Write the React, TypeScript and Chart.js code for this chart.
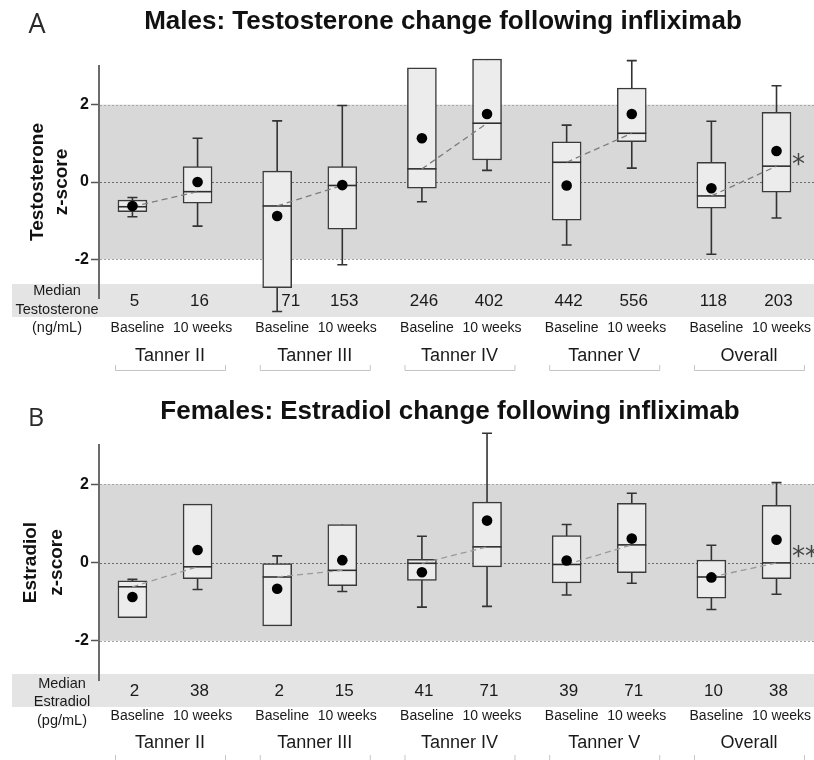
import React, { useEffect, useRef } from 'react';
import { Chart, registerables } from 'chart.js';

Chart.register(...registerables);

// ---------- shared categories ----------
const groupLabels = ['Tanner II', 'Tanner III', 'Tanner IV', 'Tanner V', 'Overall'];
const timeLabels = ['Baseline', '10 weeks'];
const yTickValues = [-2, 0, 2];
const normalLow = -2;
const normalHigh = 2;

// ---------- Panel A: males, testosterone z-score (order: II base, II 10wk, III base, ...) ----------
const maleWhiskerLow = [-0.9, -1.14, -3.35, -2.14, -0.51, 0.3, -1.63, 0.36, -1.87, -0.93];
const maleQ1 = [-0.77, -0.55, -2.73, -1.22, -0.16, 0.57, -0.99, 1.04, -0.68, -0.26];
const maleMedian = [-0.64, -0.25, -0.62, -0.09, 0.34, 1.52, 0.51, 1.26, -0.36, 0.41];
const maleQ3 = [-0.47, 0.4, 0.28, 0.4, 2.95, 3.18, 1.04, 2.43, 0.51, 1.8];
const maleWhiskerHigh = [-0.4, 1.13, 1.58, 1.98, 2.95, 3.18, 1.47, 3.14, 1.57, 2.49];
const maleMean = [-0.62, 0.0, -0.88, -0.08, 1.13, 1.76, -0.09, 1.76, -0.16, 0.8];
const maleMedianLevel = ['5', '16', '71', '153', '246', '402', '442', '556', '118', '203'];
const maleSignificance = ['', '', '', '', '*'];

// ---------- Panel B: females, estradiol z-score ----------
const femaleWhiskerLow = [-1.41, -0.69, -1.62, -0.74, -1.14, -1.12, -0.83, -0.53, -1.2, -0.81];
const femaleQ1 = [-1.41, -0.41, -1.62, -0.59, -0.46, -0.11, -0.52, -0.26, -0.91, -0.41];
const femaleMedian = [-0.62, -0.11, -0.37, -0.2, -0.02, 0.4, -0.05, 0.45, -0.37, -0.01];
const femaleQ3 = [-0.47, 1.49, -0.03, 0.97, 0.08, 1.54, 0.69, 1.51, 0.06, 1.46];
const femaleWhiskerHigh = [-0.43, 1.49, 0.17, 0.97, 0.67, 3.3, 0.97, 1.77, 0.44, 2.04];
const femaleMean = [-0.88, 0.32, -0.67, 0.06, -0.25, 1.07, 0.05, 0.61, -0.38, 0.58];
const femaleMedianLevel = ['2', '38', '2', '15', '41', '71', '39', '71', '10', '38'];
const femaleSignificance = ['', '', '', '', '**'];

// ---------- layout constants ----------
const W = 814;
const H = 380;
const PAIR = 0.225;
const X_MIN = -0.456;
const X_MAX = 4.484;
const BOX_W = 29;
const CAP = 5;
const TEXT_SHIFT = 5;
const FONT = '"Liberation Sans", Arial, Helvetica, sans-serif';

const boxX = (i: number) => Math.floor(i / 2) + (i % 2 === 0 ? -PAIR : PAIR);

type PanelCfg = {
  title: string; titleX: number; titleY: number;
  letter: string; letterX: number; letterY: number; letterSize: number;
  yTitle: string[]; yTitleX: number[];
  rowLabel: string[]; rowLabelX: number; rowLabelY: number[];
  top: number; bottom: number; axisX: number;
  bandTop: number; bandBottom: number; bandLeft: number;
  valueY: number; timeY: number; groupY: number; bracketY: number; bracketTickTop: number;
  wl: number[]; q1: number[]; med: number[]; q3: number[]; wh: number[]; mean: number[];
  levels: string[]; sig: string[]; dashColor: string;
};

const panelA: PanelCfg = {
  title: 'Males: Testosterone change following infliximab', titleX: 443, titleY: 22,
  letter: 'A', letterX: 37, letterY: 25, letterSize: 27,
  yTitle: ['Testosterone', 'z-score'], yTitleX: [38, 62],
  rowLabel: ['Median', 'Testosterone', '(ng/mL)'], rowLabelX: 57, rowLabelY: [291, 309.5, 328],
  top: 66, bottom: 298, axisX: 99,
  bandTop: 284, bandBottom: 317, bandLeft: 12,
  valueY: 301, timeY: 328, groupY: 356, bracketY: 370.5, bracketTickTop: 365,
  wl: maleWhiskerLow, q1: maleQ1, med: maleMedian, q3: maleQ3, wh: maleWhiskerHigh, mean: maleMean,
  levels: maleMedianLevel, sig: maleSignificance, dashColor: '#7d7d7d',
};

const panelB: PanelCfg = {
  title: 'Females: Estradiol change following infliximab', titleX: 450, titleY: 32,
  letter: 'B', letterX: 36, letterY: 39, letterSize: 25,
  yTitle: ['Estradiol', 'z-score'], yTitleX: [31, 57],
  rowLabel: ['Median', 'Estradiol', '(pg/mL)'], rowLabelX: 62, rowLabelY: [304, 322, 340.5],
  top: 65, bottom: 300, axisX: 99,
  bandTop: 294, bandBottom: 327, bandLeft: 12,
  valueY: 311, timeY: 336, groupY: 363, bracketY: 381, bracketTickTop: 375,
  wl: femaleWhiskerLow, q1: femaleQ1, med: femaleMedian, q3: femaleQ3, wh: femaleWhiskerHigh, mean: femaleMean,
  levels: femaleMedianLevel, sig: femaleSignificance, dashColor: '#9a9a9a',
};

function makeDecor(p: PanelCfg) {
  return {
    id: 'decor',
    beforeDraw(chart: any) {
      const { ctx, chartArea } = chart;
      const y = chart.scales.y;
      ctx.save();
      const yTop = y.getPixelForValue(normalHigh);
      const yBot = y.getPixelForValue(normalLow);
      ctx.fillStyle = '#d8d8d8';
      ctx.fillRect(chartArea.left, yTop, chartArea.right - chartArea.left, yBot - yTop);
      ctx.fillStyle = '#e4e4e4';
      ctx.fillRect(p.bandLeft, p.bandTop, chart.width - p.bandLeft, p.bandBottom - p.bandTop);
      ctx.restore();
    },
    beforeDatasetsDraw(chart: any) {
      const { ctx, chartArea } = chart;
      const x = chart.scales.x;
      const y = chart.scales.y;
      ctx.save();
      // dotted reference lines
      ctx.lineWidth = 1;
      ctx.setLineDash([2, 2]);
      yTickValues.forEach((v) => {
        const py = Math.round(y.getPixelForValue(v)) + 0.5;
        ctx.strokeStyle = v === 0 ? '#6a6a6a' : '#a5a5a5';
        ctx.beginPath();
        ctx.moveTo(chartArea.left + 1, py);
        ctx.lineTo(chartArea.right, py);
        ctx.stroke();
      });
      ctx.setLineDash([]);
      // whiskers + caps
      ctx.strokeStyle = '#333';
      ctx.lineWidth = 1.6;
      p.wl.forEach((lo, i) => {
        const px = x.getPixelForValue(boxX(i));
        const pLo = y.getPixelForValue(lo);
        const pHi = y.getPixelForValue(p.wh[i]);
        ctx.beginPath();
        ctx.moveTo(px, pLo);
        ctx.lineTo(px, pHi);
        if (lo < p.q1[i]) {
          ctx.moveTo(px - CAP, pLo);
          ctx.lineTo(px + CAP, pLo);
        }
        if (p.wh[i] > p.q3[i]) {
          ctx.moveTo(px - CAP, pHi);
          ctx.lineTo(px + CAP, pHi);
        }
        ctx.stroke();
      });
      ctx.restore();
    },
    afterDatasetDraw(chart: any, args: any) {
      if (args.index !== 0) return;
      const { ctx } = chart;
      const x = chart.scales.x;
      const y = chart.scales.y;
      ctx.save();
      ctx.strokeStyle = '#2e2e2e';
      ctx.lineWidth = 1.6;
      p.med.forEach((m, i) => {
        const px = x.getPixelForValue(boxX(i));
        const py = y.getPixelForValue(m);
        ctx.beginPath();
        ctx.moveTo(px - BOX_W / 2, py);
        ctx.lineTo(px + BOX_W / 2, py);
        ctx.stroke();
      });
      ctx.restore();
    },
    afterDraw(chart: any) {
      const { ctx, chartArea } = chart;
      const x = chart.scales.x;
      const y = chart.scales.y;
      ctx.save();
      ctx.fillStyle = '#111';
      ctx.textBaseline = 'middle';
      ctx.textAlign = 'center';
      // title
      ctx.font = `bold 26px ${FONT}`;
      ctx.fillText(p.title, p.titleX, p.titleY);
      // panel letter
      ctx.fillStyle = '#2a2a2a';
      ctx.font = `${p.letterSize}px "Open Sans", "DejaVu Sans", sans-serif`;
      ctx.fillText(p.letter, p.letterX, p.letterY);
      // y title (rotated)
      ctx.fillStyle = '#111';
      ctx.font = `bold 19px ${FONT}`;
      const cy = (chartArea.top + chartArea.bottom) / 2;
      p.yTitle.forEach((t, k) => {
        ctx.save();
        ctx.translate(p.yTitleX[k], cy);
        ctx.rotate(-Math.PI / 2);
        ctx.fillText(t, 0, 0);
        ctx.restore();
      });
      // median row label
      ctx.fillStyle = '#1a1a1a';
      ctx.font = `14.5px ${FONT}`;
      p.rowLabel.forEach((t, k) => ctx.fillText(t, p.rowLabelX, p.rowLabelY[k]));
      // median hormone values
      ctx.font = `17px ${FONT}`;
      p.levels.forEach((t, i) => {
        const px = x.getPixelForValue(boxX(i));
        const whiskerBottom = y.getPixelForValue(p.wl[i]);
        if (whiskerBottom > p.valueY - 10) {
          ctx.textAlign = 'left';
          ctx.fillText(t, px + 4, p.valueY);
          ctx.textAlign = 'center';
        } else {
          ctx.fillText(t, px + TEXT_SHIFT - 3, p.valueY);
        }
      });
      // timepoint labels
      ctx.font = `14px ${FONT}`;
      p.levels.forEach((_, i) => {
        const px = x.getPixelForValue(boxX(i));
        ctx.fillText(timeLabels[i % 2], px + TEXT_SHIFT, p.timeY);
      });
      // group labels + brackets
      ctx.font = `18px ${FONT}`;
      groupLabels.forEach((g, gi) => {
        const gx = x.getPixelForValue(gi) + TEXT_SHIFT;
        ctx.fillStyle = '#1a1a1a';
        ctx.fillText(g, gx, p.groupY);
        ctx.strokeStyle = '#c4c4c4';
        ctx.lineWidth = 1;
        ctx.beginPath();
        ctx.moveTo(gx - 55 + 0.5, p.bracketTickTop);
        ctx.lineTo(gx - 55 + 0.5, p.bracketY);
        ctx.lineTo(gx + 55 + 0.5, p.bracketY);
        ctx.lineTo(gx + 55 + 0.5, p.bracketTickTop);
        ctx.stroke();
      });
      // significance markers
      ctx.fillStyle = '#444';
      ctx.textAlign = 'left';
      ctx.textBaseline = 'alphabetic';
      ctx.font = '26px "DejaVu Sans", sans-serif';
      p.sig.forEach((s, gi) => {
        if (!s) return;
        const i = gi * 2 + 1;
        const px = x.getPixelForValue(boxX(i)) + BOX_W / 2 + 1;
        const py = y.getPixelForValue((p.med[i] + p.mean[i]) / 2);
        ctx.fillText(s, px, py + 14);
      });
      ctx.restore();
    },
  };
}

function Panel({ p }: { p: PanelCfg }) {
  const ref = useRef<HTMLCanvasElement | null>(null);
  useEffect(() => {
    if (!ref.current) return;
    const lineData: any[] = [];
    groupLabels.forEach((_, g) => {
      lineData.push({ x: boxX(2 * g), y: p.med[2 * g] });
      lineData.push({ x: boxX(2 * g + 1), y: p.med[2 * g + 1] });
      lineData.push({ x: g + 0.5, y: null });
    });
    const chart = new Chart(ref.current, {
      type: 'bar',
      data: {
        datasets: [
          {
            type: 'bar',
            data: p.q1.map((v, i) => ({ x: boxX(i), y: [v, p.q3[i]] })),
            backgroundColor: '#ececec',
            borderColor: '#3a3a3a',
            borderWidth: 1.5,
            borderSkipped: false,
            barThickness: BOX_W,
            order: 3,
            clip: false,
          } as any,
          {
            type: 'line',
            data: lineData,
            borderColor: p.dashColor,
            borderWidth: 1.3,
            borderDash: [6, 4],
            pointRadius: 0,
            spanGaps: false,
            fill: false,
            order: 2,
            clip: false,
          } as any,
          {
            type: 'scatter',
            data: p.mean.map((v, i) => ({ x: boxX(i), y: v })),
            backgroundColor: '#000',
            borderWidth: 0,
            pointRadius: 5.3,
            order: 1,
            clip: false,
          } as any,
        ],
      },
      options: {
        animation: false,
        responsive: false,
        devicePixelRatio: 1,
        events: [],
        layout: { autoPadding: false, padding: { top: p.top, bottom: H - p.bottom, left: 0, right: 0 } },
        plugins: { legend: { display: false }, tooltip: { enabled: false }, title: { display: false } },
        scales: {
          x: { type: 'linear', min: X_MIN, max: X_MAX, offset: false, display: false },
          y: {
            type: 'linear',
            min: -3,
            max: 3,
            afterFit: (scale: any) => { scale.width = p.axisX; },
            afterBuildTicks: (scale: any) => { scale.ticks = yTickValues.map((v) => ({ value: v })); },
            grid: { display: true, drawOnChartArea: false, drawTicks: true, tickLength: 8, tickColor: '#555', tickWidth: 1.5 },
            border: { display: true, color: '#6b6b6b', width: 2 },
            ticks: {
              padding: 2,
              color: '#111',
              font: { family: FONT, size: 16, weight: 'bold' },
              callback: (v: any) => String(v),
            },
          },
        },
      } as any,
      plugins: [makeDecor(p)],
    });
    return () => chart.destroy();
  }, [p]);
  return <canvas ref={ref} width={W} height={H} style={{ display: 'block', width: W, height: H }} />;
}

export default function App() {
  return (
    <div style={{ position: 'absolute', left: 0, top: 0, width: W, height: 2 * H, background: '#fff' }}>
      <Panel p={panelA} />
      <Panel p={panelB} />
    </div>
  );
}
